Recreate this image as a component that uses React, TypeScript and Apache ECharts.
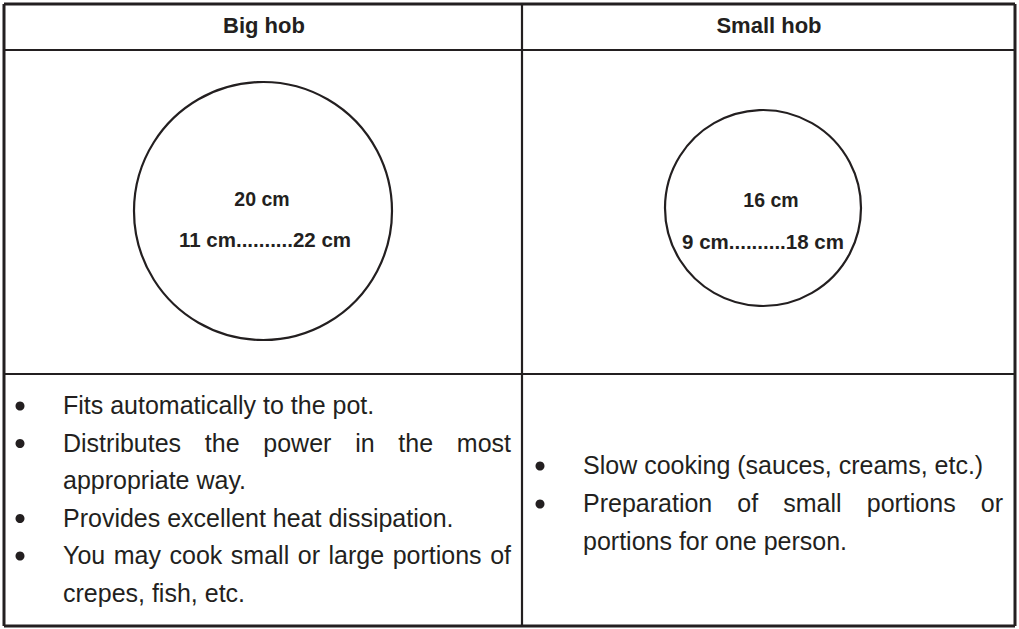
import React, { useEffect, useRef } from 'react';
import * as echarts from 'echarts';

// ---- content ----
const headers = ['Big hob', 'Small hob'];
const nominalSizes = ['20 cm', '16 cm'];
const potRanges = ['11 cm..........22 cm', '9 cm..........18 cm'];

const bigHobLines = [
  'Fits automatically to the pot.',
  'Distributes the power in the most',
  'appropriate way.',
  'Provides excellent heat dissipation.',
  'You may cook small or large portions of',
  'crepes, fish, etc.',
];
const bigHobBullets = [true, true, false, true, true, false];
const bigHobJustify = [false, true, false, false, true, false];

const smallHobLines = [
  'Slow cooking (sauces, creams, etc.)',
  'Preparation of small portions or',
  'portions for one person.',
];
const smallHobBullets = [true, true, false];
const smallHobJustify = [false, true, false];

// ---- layout / style ----
const W = 1019;
const H = 629;
const INK = '#231f20';
const BODY_FONT = '"Liberation Sans", Arial, sans-serif';
const BOLD_FONT = '"Liberation Sans", Arial, sans-serif';
const BODY_SIZE = 25;

const TABLE = { left: 4, right: 1015, top: 4, bottom: 626, headerBottom: 50, rowBottom: 374, divider: 522 };

const COLS = [
  {
    headerX: 264,
    circle: { cx: 263, cy: 211, r: 129 },
    sizeLabel: { x: 262, y: 199 },
    rangeLabel: { x: 265, y: 239 },
    body: { bulletX: 20, textX: 63, textRight: 511, firstY: 405, step: 37.5 },
  },
  {
    headerX: 769,
    circle: { cx: 763, cy: 208, r: 98 },
    sizeLabel: { x: 771, y: 200 },
    rangeLabel: { x: 763, y: 241 },
    body: { bulletX: 540, textX: 583, textRight: 1003, firstY: 465, step: 38 },
  },
];

let ctx: CanvasRenderingContext2D | null = null;
function measure(text: string, size: number, family: string, weight = 'normal') {
  if (!ctx) ctx = document.createElement('canvas').getContext('2d');
  if (!ctx) return text.length * size * 0.5;
  ctx.font = `${weight} ${size}px ${family}`;
  return ctx.measureText(text).width;
}

function lineEl(x1: number, y1: number, x2: number, y2: number, w: number) {
  return { type: 'line', shape: { x1, y1, x2, y2 }, style: { stroke: INK, lineWidth: w } };
}

function textEl(text: string, x: number, y: number, size: number, weight: string, align: string, family: string) {
  return {
    type: 'text',
    x,
    y,
    style: { text, fill: INK, fontSize: size, fontWeight: weight, fontFamily: family, align, verticalAlign: 'middle' },
  };
}

function bodyEls(lines: string[], bullets: boolean[], justify: boolean[], b: any) {
  const els: any[] = [];
  lines.forEach((line, i) => {
    const y = b.firstY + i * b.step;
    if (bullets[i]) {
      els.push({ type: 'circle', shape: { cx: b.bulletX, cy: y + 1, r: 4.5 }, style: { fill: INK } });
    }
    if (justify[i]) {
      const words = line.split(' ');
      const widths = words.map((w) => measure(w, BODY_SIZE, BODY_FONT));
      const total = widths.reduce((a, c) => a + c, 0);
      const gap = (b.textRight - b.textX - total) / (words.length - 1);
      let x = b.textX;
      words.forEach((w, k) => {
        els.push(textEl(w, x, y, BODY_SIZE, 'normal', 'left', BODY_FONT));
        x += widths[k] + gap;
      });
    } else {
      els.push(textEl(line, b.textX, y, BODY_SIZE, 'normal', 'left', BODY_FONT));
    }
  });
  return els;
}

export default function App() {
  const ref = useRef<HTMLDivElement>(null);
  useEffect(() => {
    if (!ref.current) return;
    const chart = echarts.init(ref.current, undefined, { renderer: 'svg' });
    const t = TABLE;
    const elements: any[] = [
      { type: 'rect', shape: { x: 0, y: 0, width: W, height: H }, style: { fill: '#ffffff' } },
      lineEl(t.left, t.top, t.right, t.top, 3),
      lineEl(t.left, t.bottom, t.right, t.bottom, 3),
      lineEl(t.left, t.top, t.left, t.bottom, 3),
      lineEl(t.right, t.top, t.right, t.bottom, 3),
      lineEl(t.left, t.headerBottom, t.right, t.headerBottom, 2.2),
      lineEl(t.left, t.rowBottom, t.right, t.rowBottom, 2.2),
      lineEl(t.divider, t.top, t.divider, t.bottom, 2.2),
    ];
    COLS.forEach((c, i) => {
      elements.push(textEl(headers[i], c.headerX, 25, 22, 'bold', 'center', BOLD_FONT));
      elements.push({
        type: 'circle',
        shape: { cx: c.circle.cx, cy: c.circle.cy, r: c.circle.r },
        style: { fill: 'none', stroke: INK, lineWidth: 2.2 },
      });
      elements.push(textEl(nominalSizes[i], c.sizeLabel.x, c.sizeLabel.y, 19.5, 'bold', 'center', BOLD_FONT));
      elements.push(textEl(potRanges[i], c.rangeLabel.x, c.rangeLabel.y, 20.5, 'bold', 'center', BOLD_FONT));
    });
    elements.push(...bodyEls(bigHobLines, bigHobBullets, bigHobJustify, COLS[0].body));
    elements.push(...bodyEls(smallHobLines, smallHobBullets, smallHobJustify, COLS[1].body));

    chart.setOption({ animation: false, backgroundColor: '#ffffff', graphic: { elements } });
    return () => chart.dispose();
  }, []);
  return <div ref={ref} style={{ position: 'absolute', left: 0, top: 0, width: W, height: H }} />;
}
